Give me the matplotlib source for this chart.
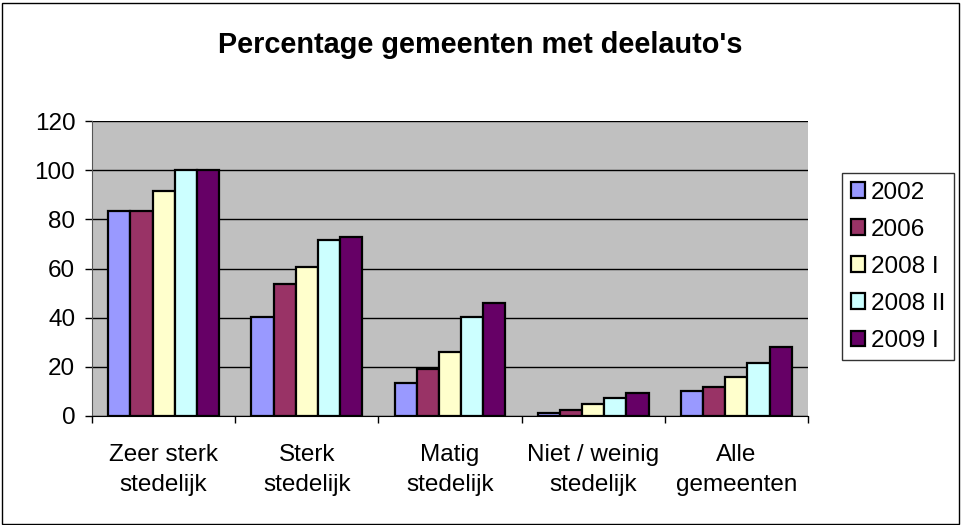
import matplotlib
matplotlib.use("Agg")
import matplotlib.pyplot as plt
import numpy as np
from matplotlib.patches import Rectangle

plt.rcParams['font.family'] = ['Liberation Sans', 'DejaVu Sans']

categories = ["Zeer sterk\nstedelijk", "Sterk\nstedelijk", "Matig\nstedelijk",
              "Niet / weinig\nstedelijk", "Alle\ngemeenten"]
series_names = ["2002", "2006", "2008 I", "2008 II", "2009 I"]
v2002 = [83.3, 40.4, 13.3, 1.3, 10.2]
v2006 = [83.3, 53.6, 19.0, 2.4, 11.9]
v2008_I = [91.7, 60.5, 26.2, 4.7, 15.9]
v2008_II = [100, 71.6, 40.4, 7.2, 21.6]
v2009_I = [100, 72.9, 46.1, 9.5, 27.9]
series_values = [v2002, v2006, v2008_I, v2008_II, v2009_I]
colors = ["#9999FF", "#993366", "#FFFFCC", "#CCFFFF", "#660066"]
yticks = [0, 20, 40, 60, 80, 100, 120]

W, H = 961, 525
fig = plt.figure(figsize=(W / 100, H / 100), dpi=100)
fig.patch.set_facecolor("white")
fig.patches.append(Rectangle((1.5 / W, 1.5 / H), (W - 4) / W, (H - 4) / H,
                             transform=fig.transFigure, fill=False,
                             edgecolor="black", linewidth=1.0))

left, right, top, bottom = 92, 808, 121, 416
ax = fig.add_axes([left / W, 1 - bottom / H, (right - left) / W, (bottom - top) / H])
ax.set_facecolor("#C0C0C0")

n = len(categories)
x = np.arange(n)
bw = 0.155
for i, (name, vals, c) in enumerate(zip(series_names, series_values, colors)):
    offs = (i - 2) * bw
    ax.bar(x + offs, vals, width=bw, color=c, edgecolor="black",
           linewidth=1.6, label=name, zorder=3)

fs = 17.5
ax.set_xlim(-0.5, n - 0.5)
ax.set_ylim(0, 120)
ax.set_yticks(yticks)
ax.set_yticklabels([str(t) for t in yticks], fontsize=fs)
ax.yaxis.grid(True, color="black", linewidth=1.0, zorder=1)
ax.set_axisbelow(True)

ax.set_xticks(x)
ax.set_xticklabels(categories, fontsize=fs, linespacing=1.5)
ax.tick_params(axis='x', length=0, pad=20)
ax.set_xticks(np.arange(n + 1) - 0.5, minor=True)
ax.tick_params(axis='x', which='minor', length=5, color="black", width=1)
ax.tick_params(axis='y', length=5, width=1, color="black", pad=7)

for side in ["top", "right"]:
    ax.spines[side].set_visible(False)
ax.spines["left"].set_color("#555555")
ax.spines["bottom"].set_color("black")

fig.text(480 / W, 1 - 45 / H, "Percentage gemeenten met deelauto's",
         ha="center", va="center", fontsize=20.8, fontweight="bold")

leg = fig.legend(loc="upper left", bbox_to_anchor=(842 / W, 1 - 173 / H),
                 fontsize=fs, frameon=True, fancybox=False, edgecolor="black",
                 handlelength=0.6, handleheight=0.6, handletextpad=0.25,
                 labelspacing=0.62, borderpad=0.35, borderaxespad=0)
leg.get_frame().set_linewidth(1.0)

fig.savefig("out.png", dpi=100)
